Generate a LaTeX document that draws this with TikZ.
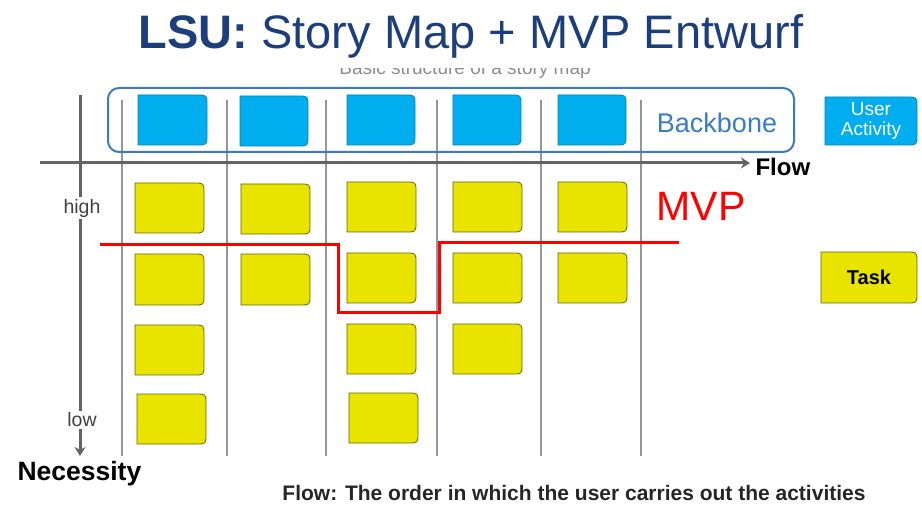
\documentclass[tikz,border=0pt]{standalone}
\usepackage{fontspec}
\setmainfont{Liberation Sans}
\usetikzlibrary{arrows.meta}
\definecolor{titleblue}{RGB}{28,62,122}
\definecolor{bbblue}{RGB}{58,124,196}
\definecolor{cardblue}{RGB}{0,174,239}
\definecolor{cardyellow}{RGB}{232,228,0}
\definecolor{axisgray}{RGB}{100,100,100}
\definecolor{colgray}{RGB}{150,150,150}
\newcommand\mkcard[6]{%
  \draw[#6] (#2,#3) -- ({#4-10},#3) .. controls (#4,#3) .. (#4,{#3+10}) -- (#4,{#5-10}) .. controls (#4,#5) .. ({#4-10},#5) -- (#2,#5) -- cycle;
  \coordinate (#1) at ({(#2+#4)/2},{(#3+#5)/2});
}
\tikzset{
  ycard/.style={fill=cardyellow, draw=black!55!cardyellow, line width=0.8pt},
  bcard/.style={fill=cardblue, draw=black!25!cardblue, line width=0.8pt},
  colline/.style={draw=colgray, line width=1.1pt},
  axisline/.style={draw=axisgray, line width=3pt},
  mvpline/.style={draw=red, line width=3pt},
  axislabel/.style={text=black!75, font=\fontsize{19.5}{19.5}\selectfont, fill=white, inner sep=2pt},
}
\begin{document}
\begin{tikzpicture}[x=1pt,y=-1pt]
\useasboundingbox (0,0) rectangle (922,505);
% title
\node[text=titleblue, font=\fontsize{47}{47}\selectfont, anchor=base, inner sep=0pt] (title) at (471,49) {\textbf{LSU:} Story Map + MVP Entwurf};
% cut-off subtitle
\begin{scope}
\clip (200,69) rectangle (700,82);
\node[text=black!45, font=\fontsize{19}{19}\selectfont, anchor=base, inner sep=0pt] (sub) at (465,75) {Basic structure of a story map};
\end{scope}
% column lines
\foreach \i/\x in {1/122,2/227,3/326,4/437,5/541,6/641}{
  \coordinate (ct\i) at (\x,100);
  \coordinate (cb\i) at (\x,456);
  \draw[colline] (ct\i) -- (cb\i);
}
% axes
\coordinate (vtop) at (80,95);
\coordinate (vbot) at (80,456);
\coordinate (hl) at (40,163);
\coordinate (hr) at (750,163);
\draw[axisline, -{Stealth[length=9pt,width=11pt]}] (vtop) -- (vbot);
\draw[axisline, -{Stealth[length=9pt,width=11pt]}] (hl) -- (hr);
\node[axislabel] (high) at (82,208) {high};
\node[axislabel] (low) at (82,420) {low};
\node[font=\bfseries\fontsize{24}{24}\selectfont, anchor=west] (flow) at (752,167) {Flow};
\node[font=\bfseries\fontsize{26.5}{26.5}\selectfont, anchor=west] (nec) at (14,474) {Necessity};
% backbone
\draw[draw=bbblue, line width=2pt, rounded corners=11pt] (108,88) rectangle (794,152);
\node[text=bbblue, font=\fontsize{27}{27}\selectfont] (bb) at (717,123) {Backbone};
\mkcard{b1}{138}{95}{207}{145}{bcard}
\mkcard{b2}{240}{96}{308}{146}{bcard}
\mkcard{b3}{347}{95}{415}{145}{bcard}
\mkcard{b4}{453}{95}{521}{145}{bcard}
\mkcard{b5}{558}{95}{626}{145}{bcard}
\mkcard{ua}{825}{97}{917}{145}{bcard}
\node[text=white, font=\fontsize{19}{20}\selectfont, align=center] (uat) at (ua) {User\\Activity};
% yellow cards
\mkcard{y11}{135}{183}{204}{233}{ycard}
\mkcard{y12}{135}{254}{204}{305}{ycard}
\mkcard{y13}{135}{325}{204}{375}{ycard}
\mkcard{y14}{137}{394}{206}{444}{ycard}
\mkcard{y21}{241}{184}{310}{234}{ycard}
\mkcard{y22}{241}{254}{310}{305}{ycard}
\mkcard{y31}{347}{182}{416}{232}{ycard}
\mkcard{y32}{347}{253}{416}{303}{ycard}
\mkcard{y33}{347}{324}{416}{374}{ycard}
\mkcard{y34}{349}{393}{418}{443}{ycard}
\mkcard{y41}{453}{182}{522}{232}{ycard}
\mkcard{y42}{453}{253}{522}{303}{ycard}
\mkcard{y43}{453}{324}{522}{374}{ycard}
\mkcard{y51}{558}{182}{627}{232}{ycard}
\mkcard{y52}{558}{253}{627}{303}{ycard}
\mkcard{task}{821}{252}{917}{303}{ycard}
\node[font=\bfseries\fontsize{20}{20}\selectfont] (taskt) at (task) {Task};
% MVP line
\coordinate (m1) at (100,245);
\coordinate (m2) at (338,245);
\coordinate (m3) at (338,313);
\coordinate (m4) at (439,313);
\coordinate (m5) at (439,243);
\coordinate (m6) at (679,243);
\draw[mvpline] (m1) -- (m2) -- (m3) -- (m4) -- (m5) -- (m6);
\node[text=red, font=\fontsize{41}{41}\selectfont] (mvp) at (701,206) {MVP};
% caption
\node[font=\bfseries\fontsize{21}{21}\selectfont, text=black!85] (cap) at (574,493) {Flow: The order in which the user carries out the activities};
\end{tikzpicture}
\end{document}
